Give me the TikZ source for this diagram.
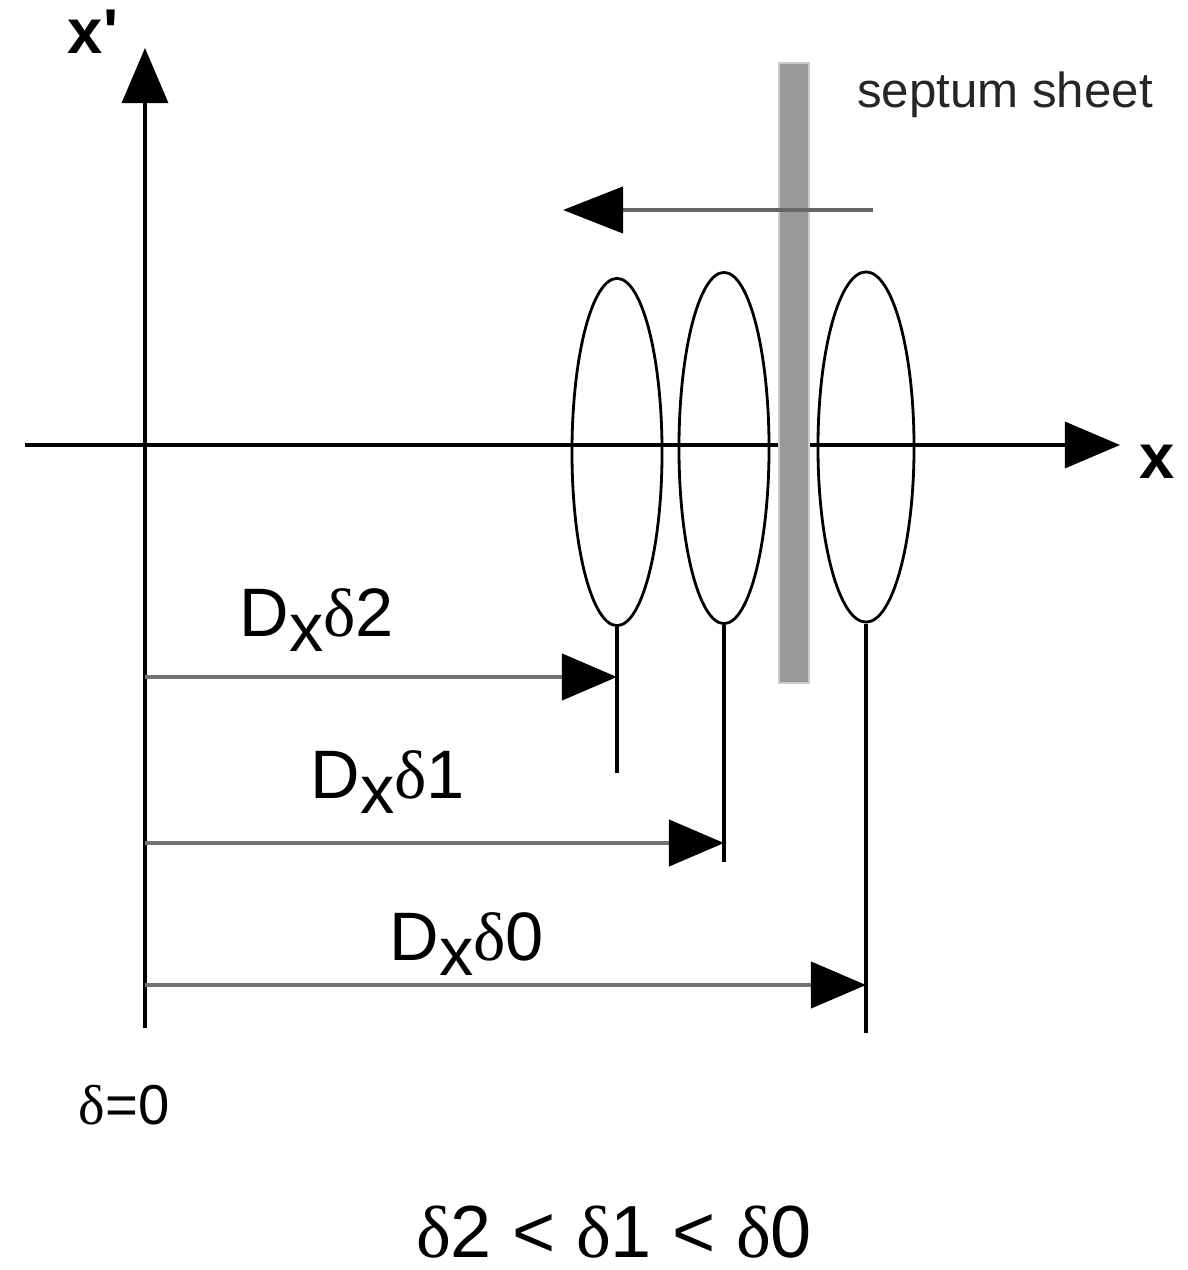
\documentclass[tikz,border=0pt]{standalone}
\usepackage{fontspec}
\setmainfont{Liberation Sans}
\newfontfamily\grk{Liberation Serif}
\usetikzlibrary{shapes.geometric,arrows.meta,positioning,calc}
\tikzset{
  axisline/.style={line width=0.9pt, draw=black},
  axisarr/.style={axisline, -{Triangle[length=5.5mm, width=4.6mm]}},
  bunch/.style={ellipse, draw=black, line width=0.8pt, inner sep=0pt, minimum width=9mm},
  tickline/.style={line width=0.9pt, draw=black},
  dimarr/.style={-{Triangle[length=5.5mm, width=4.6mm, color=black]}, line width=1.2pt, draw=black!55},
  kickarr/.style={-{Triangle[length=6mm, width=4.6mm, color=black]}, line width=1.2pt, draw=black!60},
  sheetbox/.style={rectangle, fill=black!40, draw=black!20, line width=0.6pt, inner sep=0pt,
                   minimum width=3mm, minimum height=62mm},
  axislabel/.style={font=\fontsize{18}{20}\selectfont\bfseries, inner sep=0pt},
  dimlabel/.style={font=\fontsize{19.5}{22}\selectfont, inner sep=0pt},
  notelabel/.style={font=\fontsize{14}{16}\selectfont, text=black!85, inner sep=0pt},
}
\newcommand{\dlt}{{\grk δ}}
\newcommand{\Dsub}[1]{D\raisebox{-0.22em}{x}\dlt#1}
\begin{document}
\begin{tikzpicture}[x=0.01cm, y=-0.01cm]
    \useasboundingbox (0,0) rectangle (1187,1270);
    % axes
    \coordinate (xl) at (25,445);
    \coordinate (xr) at (1120,445);
    \coordinate (yb) at (145,1028);
    \coordinate (yt) at (145,48);
    \draw[axisarr] (xl) -- (xr);
    \draw[axisarr] (yb) -- (yt);
    \node[axislabel] (xlab)  at (1157,462) {x};
    \node[axislabel] (xplab) at (93,32) {x\textquotesingle};
    % beam bunches
    \node[bunch, minimum height=34.7mm] (bunch2) at (617,452) {};
    \node[bunch, minimum height=35.1mm] (bunch1) at (724,448) {};
    \node[bunch, minimum width=9.6mm, minimum height=35mm] (bunch0) at (866,447) {};
    % septum sheet and kick
    \node[sheetbox] (sheet) at (794,373) {};
    \node[notelabel] (sheetlab) at (1005,95) {septum sheet};
    \coordinate (ks) at (873,210);
    \coordinate (ke) at (563,210);
    \draw[kickarr] (ks) -- (ke);
    % dispersion offsets
    \coordinate (t2) at (bunch2.south |- 0,773);
    \coordinate (t1) at (bunch1.south |- 0,862);
    \coordinate (t0) at (bunch0.south |- 0,1033);
    \draw[tickline] (bunch2.south) -- (t2);
    \draw[tickline] (bunch1.south) -- (t1);
    \draw[tickline] (bunch0.south) -- (t0);
    \coordinate (a2) at (145,677);
    \coordinate (a1) at (145,843);
    \coordinate (a0) at (145,985);
    \draw[dimarr] (a2) -- (a2 -| bunch2.south);
    \draw[dimarr] (a1) -- (a1 -| bunch1.south);
    \draw[dimarr] (a0) -- (a0 -| bunch0.south);
    \node[dimlabel] (d2lab) at (317,620) {\Dsub{2}};
    \node[dimlabel] (d1lab) at (388,782) {\Dsub{1}};
    \node[dimlabel] (d0lab) at (467,944) {\Dsub{0}};
    % momentum labels
    \node[font=\fontsize{16}{18}\selectfont, inner sep=0pt] (zero) at (124,1105) {\dlt=0};
    \node[font=\fontsize{21}{24}\selectfont, inner sep=0pt] (order) at (614,1232)
      {\dlt2 < \dlt1 < \dlt0};
\end{tikzpicture}
\end{document}
